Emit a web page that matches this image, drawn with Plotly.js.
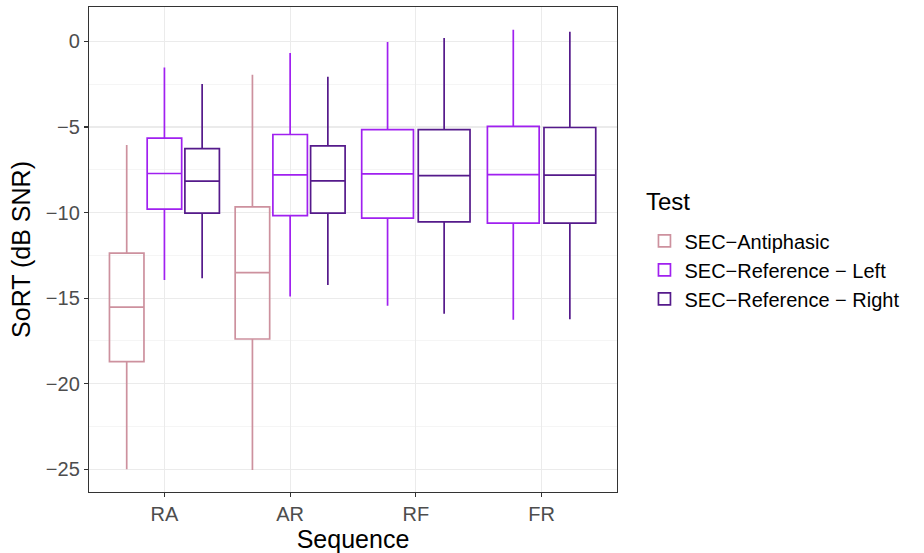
<!DOCTYPE html>
<html>
<head>
<meta charset="utf-8">
<script src="https://cdn.plot.ly/plotly-3.0.1.min.js"></script>
<style>html,body{margin:0;padding:0;background:#fff;}#chart{width:924px;height:553px;}</style>
</head>
<body>
<div id="chart"></div>
<script>
// Categories (Sequence)
const categories = ['RA', 'AR', 'RF', 'FR'];
const tests = ['SEC\u2212Antiphasic', 'SEC\u2212Reference \u2212 Left', 'SEC\u2212Reference \u2212 Right'];
const colors = ['#CD919E', '#A020F0', '#551A8B'];
const legendTitle = 'Test';

// Box statistics per test, one value per category (null = test not run)
const antiUpper  = [-6.06, -1.95, null, null];
const antiQ3     = [-12.37, -9.67, null, null];
const antiMedian = [-15.53, -13.51, null, null];
const antiQ1     = [-18.71, -17.39, null, null];
const antiLower  = [-25.0, -25.05, null, null];

const leftUpper  = [-1.52, -0.68, -0.04, 0.68];
const leftQ3     = [-5.65, -5.44, -5.16, -4.97];
const leftMedian = [-7.72, -7.80, -7.74, -7.78];
const leftQ1     = [-9.80, -10.18, -10.33, -10.62];
const leftLower  = [-13.94, -14.91, -15.44, -16.27];

const rightUpper  = [-2.49, -2.06, 0.20, 0.57];
const rightQ3     = [-6.27, -6.10, -5.16, -5.03];
const rightMedian = [-8.16, -8.15, -7.84, -7.81];
const rightQ1     = [-10.04, -10.04, -10.54, -10.62];
const rightLower  = [-13.84, -14.23, -15.91, -16.23];

const stats = [
  {upper: antiUpper, q3: antiQ3, med: antiMedian, q1: antiQ1, lower: antiLower},
  {upper: leftUpper, q3: leftQ3, med: leftMedian, q1: leftQ1, lower: leftLower},
  {upper: rightUpper, q3: rightQ3, med: rightMedian, q1: rightQ1, lower: rightLower}
];

// categories where all tests present vs. where antiphasic is missing
const full = categories.filter((c, i) => antiMedian[i] !== null);
const partial = categories.filter((c, i) => antiMedian[i] === null);

const traces = [];
const shown = {};
[[full, 'g3'], [partial, 'g2']].forEach(([cats, grp]) => {
  stats.forEach((s, t) => {
    const idx = cats.map(c => categories.indexOf(c)).filter(i => s.med[i] !== null);
    if (!idx.length) return;
    traces.push({
      type: 'box',
      name: tests[t],
      legendgroup: tests[t],
      showlegend: !shown[t],
      x: idx.map(i => categories[i]),
      q1: idx.map(i => s.q1[i]),
      median: idx.map(i => s.med[i]),
      q3: idx.map(i => s.q3[i]),
      lowerfence: idx.map(i => s.lower[i]),
      upperfence: idx.map(i => s.upper[i]),
      alignmentgroup: grp,
      offsetgroup: grp + '_' + t,
      line: {color: colors[t], width: 1.7},
      fillcolor: 'rgba(255,255,255,0)',
      whiskerwidth: 0,
      boxpoints: false,
      hoverinfo: 'skip'
    });
    shown[t] = true;
  });
});

const font = 'Liberation Sans, Arial, Helvetica, sans-serif';
const layout = {
  width: 924, height: 553,
  margin: {l: 89, r: 307, t: 7, b: 61},
  paper_bgcolor: '#fff', plot_bgcolor: '#fff',
  font: {family: font, color: '#000'},
  boxmode: 'group',
  boxgap: 0.1,
  boxgroupgap: 0.085,
  xaxis: {
    type: 'category',
    categoryorder: 'array', categoryarray: categories,
    range: [-0.6, 3.6],
    showgrid: true, gridcolor: '#EBEBEB', gridwidth: 1.2,
    showline: true, mirror: true, linecolor: '#333333', linewidth: 1.2,
    ticks: 'outside', ticklen: 4, tickcolor: '#333333', tickwidth: 1.2,
    tickfont: {size: 20, color: '#4D4D4D', family: font},
    title: {text: 'Sequence', font: {size: 25, color: '#000', family: font}, standoff: 3},
    zeroline: false, fixedrange: true
  },
  yaxis: {
    range: [-26.33, 2.01],
    tickvals: [0, -5, -10, -15, -20, -25],
    showgrid: true, gridcolor: '#EBEBEB', gridwidth: 1.2,
    minor: {tickvals: [-2.5, -7.5, -12.5, -17.5, -22.5], showgrid: true, gridcolor: '#F3F3F3', gridwidth: 0.8, ticks: ''},
    showline: true, mirror: true, linecolor: '#333333', linewidth: 1.2,
    ticks: 'outside', ticklen: 4, tickcolor: '#333333', tickwidth: 1.2,
    tickfont: {size: 20, color: '#4D4D4D', family: font},
    title: {text: 'SoRT (dB SNR)', font: {size: 25, color: '#000', family: font}, standoff: 8},
    zeroline: false, fixedrange: true
  },
  showlegend: true,
  legend: {
    x: 1.052, xanchor: 'left', y: 0.458, yanchor: 'middle',
    font: {size: 20, color: '#000', family: font},
    bgcolor: 'rgba(0,0,0,0)', tracegroupgap: 0
  },
  annotations: [{
    text: legendTitle, xref: 'paper', yref: 'paper',
    x: 1.052, xanchor: 'left', y: 0.598, yanchor: 'middle',
    showarrow: false, font: {size: 24, color: '#000', family: font}
  }]
};

Plotly.newPlot('chart', traces, layout, {displayModeBar: false, staticPlot: true});
</script>
</body>
</html>
